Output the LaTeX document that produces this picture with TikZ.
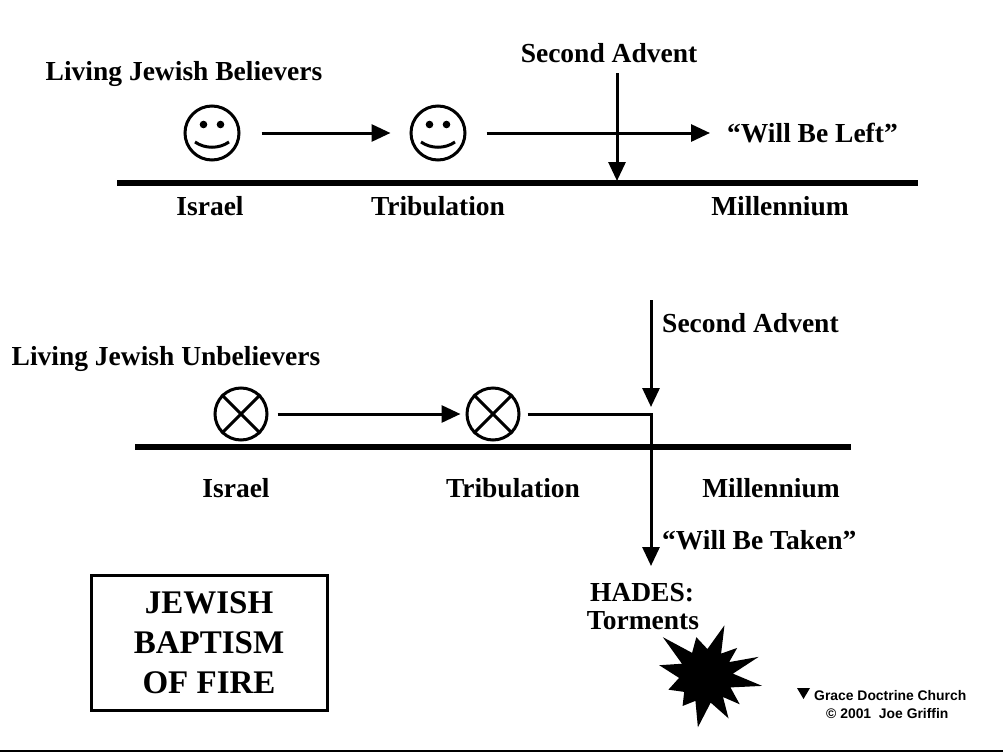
\documentclass[tikz,border=0pt]{standalone}
\usepackage{fontspec}
\setmainfont{Liberation Serif}
\newfontfamily\footfont{Liberation Sans}
\usetikzlibrary{arrows.meta,calc}
\begin{document}
\begin{tikzpicture}[x=1pt,y=-1pt,
  lbl/.style={font=\fontsize{27.5}{33}\selectfont\bfseries, inner sep=0pt, anchor=base},
  face/.style={circle, draw, line width=3pt, minimum size=54pt, inner sep=0pt},
  cross/.style={circle, draw, line width=3pt, minimum size=52pt, inner sep=0pt},
  arr/.style={line width=3pt, -{Triangle[length=19pt,width=17pt]}},
  tline/.style={line width=6pt},
  foot/.style={font=\footfont\fontsize{13.9}{16}\selectfont\bfseries, inner sep=0pt, anchor=base west},
]
\useasboundingbox (0,0) rectangle (1003,752);

% ---------- top diagram ----------
\node[lbl] (ljb) at (184,81) {Living Jewish Believers};
\node[lbl] (sa1) at (609,63) {Second Advent};
\node[lbl, anchor=base west] (left) at (727,142) {“Will Be Left”};

\node[face] (s1) at (212,133) {};
\node[face] (s2) at (438,133) {};
\foreach \s in {s1,s2}{
  \fill ([shift={(-8.5,-8.5)}]\s.center) circle (3.8);
  \fill ([shift={(8.5,-8.5)}]\s.center) circle (3.8);
  \draw[line width=3pt] ([shift={(-17,9)}]\s.center) .. controls ([shift={(-7,16)}]\s.center) and ([shift={(7,16)}]\s.center) .. ([shift={(17,9)}]\s.center);
}

\coordinate (t1a) at (117,183);
\coordinate (t1b) at (918,183);
\draw[tline] (t1a) -- (t1b);

\coordinate (wl) at (710,133);
\coordinate (sa1a) at (617,73);
\coordinate (sa1b) at (617,181);
\draw[arr, shorten <=21pt, shorten >=19pt] (s1) -- (s2);
\draw[arr, shorten <=20pt] (s2) -- (wl);
\draw[arr] (sa1a) -- (sa1b);

\node[lbl] (isr1) at (210,215) {Israel};
\node[lbl] (tri1) at (438,215) {Tribulation};
\node[lbl] (mil1) at (780,215) {Millennium};

% ---------- bottom diagram ----------
\node[lbl, anchor=base west] (sa2) at (662,332) {Second Advent};
\node[lbl] (lju) at (166,365) {Living Jewish Unbelievers};

\node[cross] (x1) at (241,414) {};
\node[cross] (x2) at (493,414) {};
\foreach \s in {x1,x2}{
  \draw[line width=3pt] (\s.north west) -- (\s.south east);
  \draw[line width=3pt] (\s.north east) -- (\s.south west);
}

\coordinate (t2a) at (135,447);
\coordinate (t2b) at (851,447);
\draw[tline] (t2a) -- (t2b);

\coordinate (sa2a) at (651,300);
\coordinate (sa2b) at (651,407);
\coordinate (corner) at (651,414);
\coordinate (tk) at (651,566);
\draw[arr, shorten <=9pt, shorten >=5pt] (x1) -- (x2);
\draw[arr, shorten <=7pt] (x2) -- (corner) -- (tk);
\draw[arr] (sa2a) -- (sa2b);

\node[lbl] (isr2) at (236,497) {Israel};
\node[lbl] (tri2) at (513,497) {Tribulation};
\node[lbl] (mil2) at (771,497) {Millennium};
\node[lbl, anchor=base west] (taken) at (662,549) {“Will Be Taken”};

\node[lbl] (hades) at (642,601) {HADES:};
\node[lbl] (torm) at (643,629) {Torments};

% star burst
\fill ({706+58*cos(-138)},{676+58*sin(-138)})
  \foreach \m/\a/\r in {-121/-104/40, -87/-70/54, -56/-42/42, -31/-20/56, -5/10/57,
                        25/40/44, 51/62/48, 80/99/52, 113/128/38, 144/160/40,
                        176/193/48, 207/222/58}{
    -- ({706+27*cos(\m)},{676+27*sin(\m)})
    -- ({706+\r*cos(\a)},{676+\r*sin(\a)})
  } -- cycle;

% box
\node[draw, line width=3pt, minimum width=236pt, minimum height=135pt, inner sep=0pt,
      align=center, font=\fontsize{33}{40}\selectfont\bfseries] (box) at (209,642.5)
  {JEWISH\\BAPTISM\\OF FIRE};

% footer
\fill (797,688) -- (810,688) -- (803.5,699) -- cycle;
\node[foot] (gdc) at (814,700) {Grace Doctrine Church};
\node[foot] (cpy) at (826,718) {© 2001\ \ Joe Griffin};

\coordinate (ba) at (0,751);
\coordinate (bb) at (1003,751);
\draw[line width=1.5pt] (ba) -- (bb);
\end{tikzpicture}
\end{document}
